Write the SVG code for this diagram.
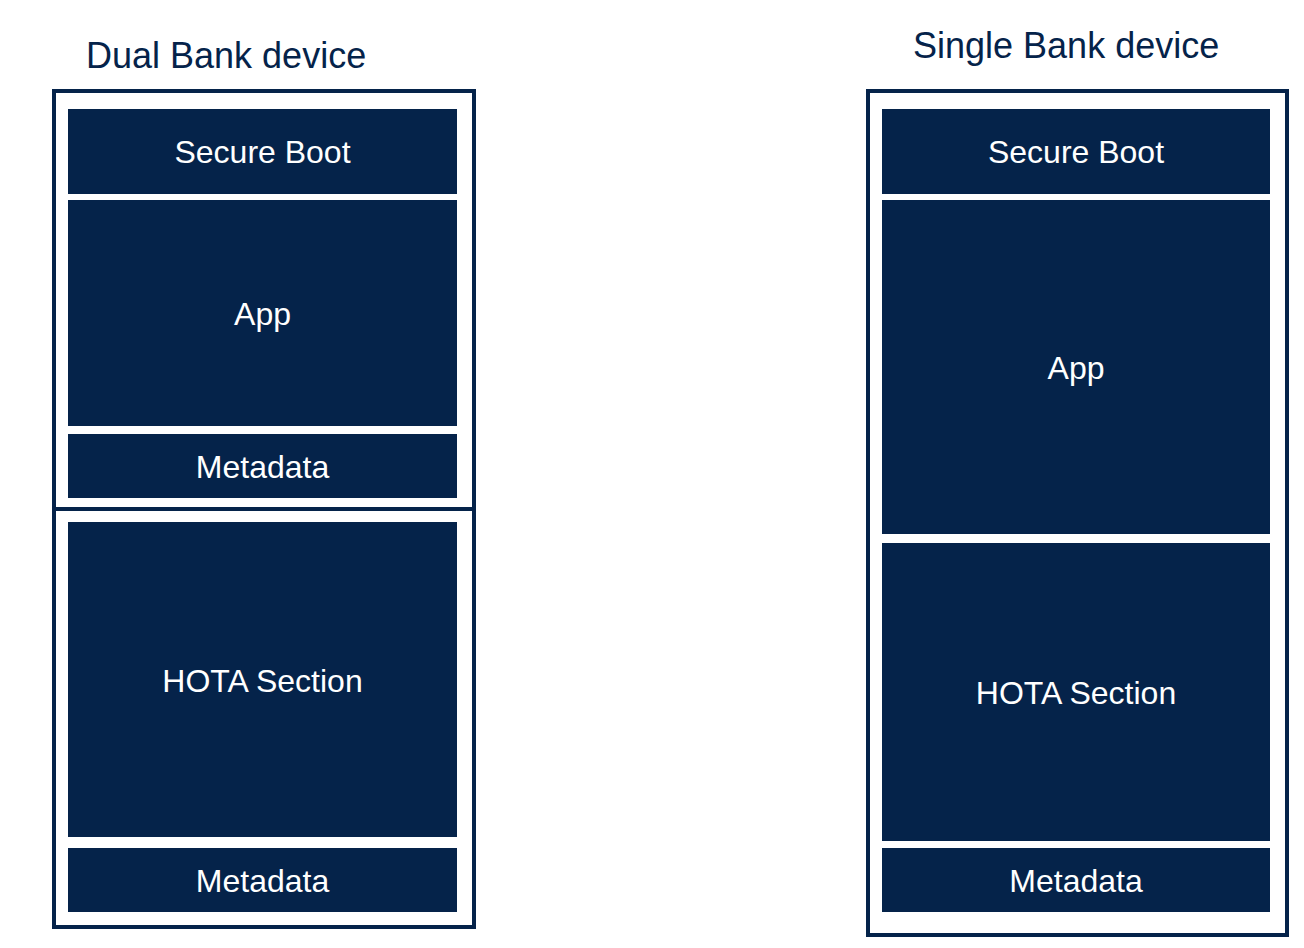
<svg xmlns="http://www.w3.org/2000/svg" width="1304" height="948" viewBox="0 0 1304 948">
<style>
.frame{fill:none;stroke:#05234a;stroke-width:4}
.blk{fill:#05234a}
.lbl{font-family:"Liberation Sans",Arial,sans-serif;font-size:32px;fill:#ffffff;text-anchor:middle}
.ttl{font-family:"Liberation Sans",Arial,sans-serif;font-size:36px;fill:#05234a}
</style>
<rect x="0" y="0" width="1304" height="948" fill="#ffffff"/>
<g id="dual">
<text class="ttl" x="86" y="68">Dual Bank device</text>
<rect class="frame" x="54" y="91" width="420" height="836"/>
<line x1="54" y1="509" x2="474" y2="509" stroke="#05234a" stroke-width="4"/>
<g id="dual-secure-boot"><rect class="blk" x="68" y="109" width="389" height="85"/><text class="lbl" x="262.5" y="163">Secure Boot</text></g>
<g id="dual-app"><rect class="blk" x="68" y="200" width="389" height="226"/><text class="lbl" x="262.5" y="325">App</text></g>
<g id="dual-metadata1"><rect class="blk" x="68" y="434" width="389" height="64"/><text class="lbl" x="262.5" y="478">Metadata</text></g>
<g id="dual-hota"><rect class="blk" x="68" y="522" width="389" height="315"/><text class="lbl" x="262.5" y="692">HOTA Section</text></g>
<g id="dual-metadata2"><rect class="blk" x="68" y="848" width="389" height="64"/><text class="lbl" x="262.5" y="892">Metadata</text></g>
</g>
<g id="single">
<text class="ttl" x="913" y="58">Single Bank device</text>
<rect class="frame" x="868" y="91" width="419" height="844"/>
<g id="single-secure-boot"><rect class="blk" x="882" y="109" width="388" height="85"/><text class="lbl" x="1076" y="163">Secure Boot</text></g>
<g id="single-app"><rect class="blk" x="882" y="200" width="388" height="334"/><text class="lbl" x="1076" y="379">App</text></g>
<g id="single-hota"><rect class="blk" x="882" y="543" width="388" height="298"/><text class="lbl" x="1076" y="704">HOTA Section</text></g>
<g id="single-metadata"><rect class="blk" x="882" y="848" width="388" height="64"/><text class="lbl" x="1076" y="892">Metadata</text></g>
</g>
<g id="connectors"></g>
</svg>
